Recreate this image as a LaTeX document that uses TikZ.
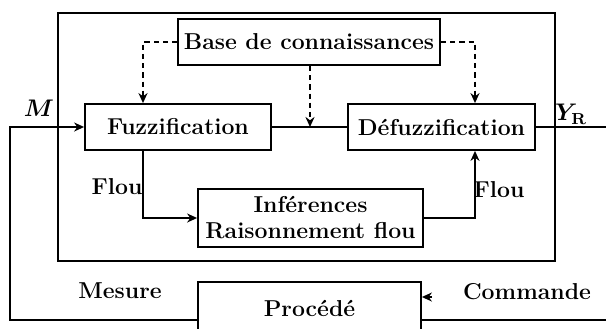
\documentclass[tikz,border=0pt]{standalone}
\usetikzlibrary{arrows.meta,positioning}

\begin{document}
\begin{tikzpicture}[
  x=0.5pt,y=-0.5pt,
  >={Stealth[length=5pt,width=4.5pt]},
  line width=0.9pt,
  block/.style={draw,minimum height=23pt,inner sep=2pt},
  dashline/.style={dashed,dash pattern=on 2.6pt off 2pt},
  every node/.style={font=\fontsize{11.5}{13}\selectfont\bfseries\boldmath}
]
  \useasboundingbox (0,0) rectangle (606,328);
  % fuzzy controller frame
  \draw (58,13) rectangle (555,261);
  \node[block,minimum width=131pt] (base) at (309,42) {Base de connaissances};
  \node[block,minimum width=93pt] (fuzz) at (178,127) {Fuzzification};
  \node[block,minimum width=93.5pt] (defuzz) at (441.5,127) {Défuzzification};
  \node[block,minimum width=112.5pt,minimum height=29pt,align=center,
    inner sep=1pt] (infer) at (310.5,218) {Inférences\\Raisonnement flou};
  \node[block,minimum width=111.5pt,minimum height=26pt] (proc) at (309.5,308) {Procédé};
  \coordinate (mleft) at (10,127);
  \coordinate (yout) at (606,127);
  \coordinate (uright) at (606,320);
  \coordinate (cmdin) at (432,297);
  % knowledge base
  \draw[dashline,->] (base.west) -| ([xshift=-17.5pt]fuzz.north);
  \draw[dashline,->] (base.east) -| ([xshift=16.75pt]defuzz.north);
  \draw[dashline,->] ([xshift=0.5pt]base.south) -- ([xshift=0.5pt]base.south |- fuzz.east);
  % main chain
  \draw (fuzz) -- (defuzz);
  \draw (defuzz) -- (yout);
  \draw[->] ([xshift=-17.5pt]fuzz.south) |- (infer.west);
  \draw[->] (infer.east) -| ([xshift=16.75pt]defuzz.south);
  % loop
  \draw[->] ([yshift=-6pt]proc.west) -| (mleft) -- (fuzz.west);
  \draw ([yshift=-6pt]proc.east) -- (uright);
  \draw[->] (cmdin) -- (proc.east |- cmdin);
  % labels
  \node (mlab) at (39,108) {$M$};
  \node (ylab) at (571,114) {$Y_{\mathbf{R}}$};
  \node (floul) at (117,187) {Flou};
  \node (flour) at (499,190) {Flou};
  \node (mes) at (120,291) {Mesure};
  \node (cmd) at (527,292) {Commande};
\end{tikzpicture}
\end{document}
